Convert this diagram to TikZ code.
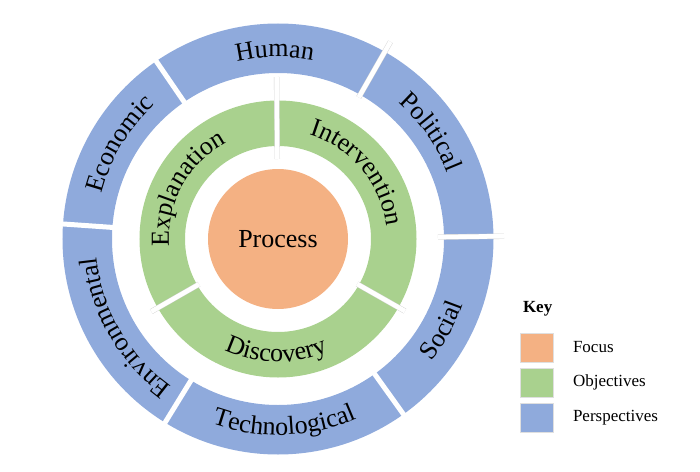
\documentclass[tikz,border=0pt]{standalone}
\usepackage{fontspec}
\setmainfont{Liberation Serif}
\usetikzlibrary{decorations.text}
\usetikzlibrary{positioning}

\definecolor{focuscol}{HTML}{F4B183}
\definecolor{objcol}{HTML}{A9D18E}
\definecolor{perscol}{HTML}{8FAADC}

\newcommand{\ringfont}{\fontsize{26}{26}\selectfont}
\newcommand{\keyfont}{\fontsize{17}{17}\selectfont}

\begin{document}
\begin{tikzpicture}[x=1pt,y=1pt,inner sep=0pt,outer sep=0pt,
ringlabel/.style={decorate,decoration={text along path,text align=center,text={|\ringfont|#1}}},
gap/.style={white,line width=5pt},
gapline/.style={draw=gray!35,line width=0.4pt,double=white,double distance=4.6pt},
keybox/.style={draw=gray!25,line width=0.6pt,minimum width=33pt,minimum height=29pt},
keylabel/.style={font=\keyfont,anchor=west}]

\useasboundingbox (-278,-232) rectangle (422,239);

% rings
\fill[perscol,even odd rule] (0,0) circle (215.5) (0,0) circle (166);
\fill[objcol,even odd rule] (0,0) circle (138.5) (0,0) circle (93);
\node[circle,fill=focuscol,minimum size=140pt,font=\ringfont] (process) at (0,0) {Process};

% separators
\foreach \a in {124.4,-54.4,-121.6,176}
  \draw[gap] (\a:163) -- (\a:218);
\draw[gapline] (0.7:160) -- (0.7:226);
\draw[gapline] (60.3:163) -- (60.3:227);
\draw[gapline] (90.5:80) -- (90.5:162);
\draw[gapline] (-29.6:91) -- (-29.6:146);
\draw[gapline] (-150.2:91) -- (-150.2:146);

% perspectives
\path[ringlabel=Human] (131:182) arc[start angle=131,end angle=51,radius=182];
\path[ringlabel=Political] (75:182) arc[start angle=75,end angle=-5,radius=182];
\path[ringlabel=Economic] (189:182) arc[start angle=189,end angle=109,radius=182];
\path[ringlabel=Environmental] (250:182) arc[start angle=250,end angle=170,radius=182];
\path[ringlabel=Technological] (-128:196) arc[start angle=-128,end angle=-48,radius=196];
\path[ringlabel=Social] (-69:196) arc[start angle=-69,end angle=11,radius=196];

% objectives
\path[ringlabel=Explanation] (191:109) arc[start angle=191,end angle=111,radius=109];
\path[ringlabel=Intervention] (80:109) arc[start angle=80,end angle=0,radius=109];
\path[ringlabel=Discovery] (-131:123) arc[start angle=-131,end angle=-51,radius=123];

% key
\node[font=\keyfont\bfseries,anchor=west] (key) at (245,-70) {Key};
\node[keybox,fill=focuscol] (kfocus) at (258.5,-108.5) {};
\node[keybox,fill=objcol,below=6pt of kfocus] (kobj) {};
\node[keybox,fill=perscol,below=6pt of kobj] (kpers) {};
\node[keylabel,right=20pt of kfocus] (lfocus) {Focus};
\node[keylabel,right=20pt of kobj] (lobj) {Objectives};
\node[keylabel,right=20pt of kpers] (lpers) {Perspectives};

\end{tikzpicture}
\end{document}
